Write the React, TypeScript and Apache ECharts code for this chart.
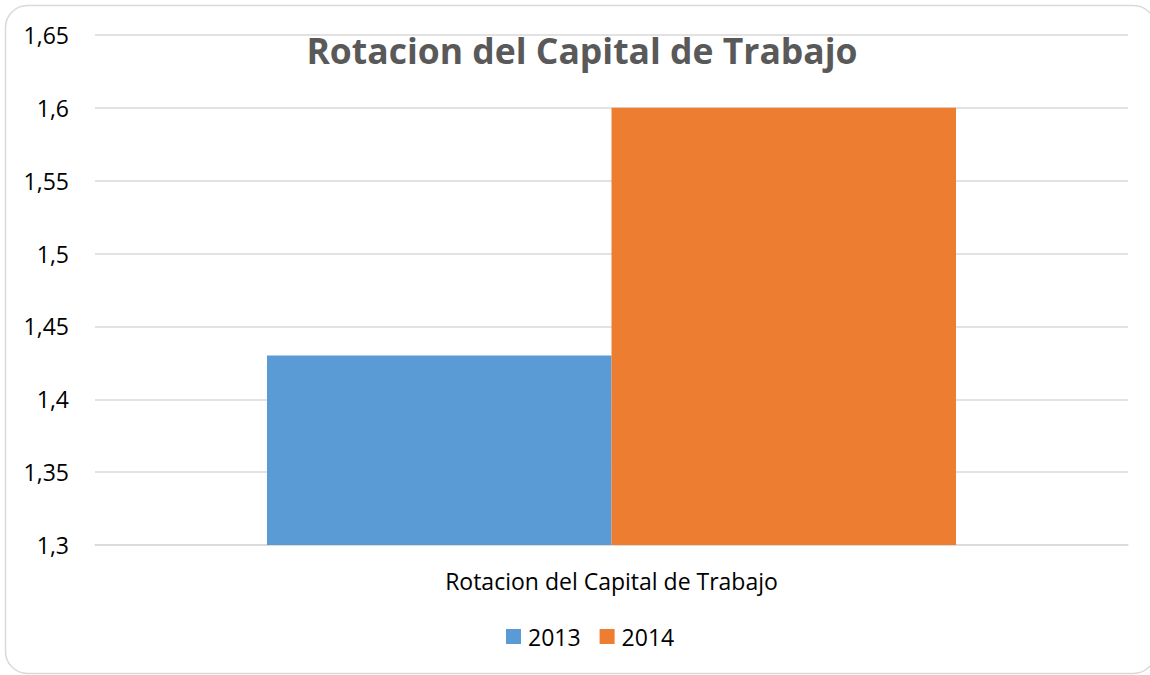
import React, { useEffect, useRef } from "react";
import * as echarts from "echarts";

const categories = ["Rotacion del Capital de Trabajo"];
const seriesNames = ["2013", "2014"];
const values2013 = [1.43];
const values2014 = [1.6];
const colors = ["#5b9bd5", "#ed7d31"];

export default function App() {
  const ref = useRef<HTMLDivElement>(null);
  useEffect(() => {
    const chart = echarts.init(ref.current!, null, { renderer: "svg" });
    const font = "Open Sans";
    chart.setOption({
      animation: false,
      backgroundColor: "#fff",
      title: {
        text: "Rotacion del Capital de Trabajo",
        left: 577,
        textAlign: "center",
        top: 27,
        textStyle: { fontFamily: font, fontSize: 35.5, fontWeight: "bold", color: "#595959" },
      },
      graphic: [
        {
          type: "rect",
          shape: { x: 5.5, y: 5.5, width: 1150, height: 668, r: 22 },
          style: { fill: "none", stroke: "#d9d9d9", lineWidth: 1.5 },
          z: -1,
        },
      ],
      legend: {
        bottom: 22,
        left: 501,
        itemWidth: 15,
        itemHeight: 15,
        itemGap: 19,
        icon: "rect",
        textStyle: { fontFamily: font, fontSize: 23, color: "#000", padding: [0, 0, 0, 2] },
        data: seriesNames,
      },
      grid: { left: 95, right: 22, top: 35, bottom: 130, containLabel: false },
      xAxis: {
        type: "category",
        data: categories,
        axisLine: { lineStyle: { color: "#d9d9d9", width: 1.5 } },
        axisTick: { show: false },
        axisLabel: { margin: 24, fontFamily: font, fontSize: 23, color: "#000" },
      },
      yAxis: {
        type: "value",
        min: 1.3,
        max: 1.65,
        interval: 0.05,
        axisLine: { show: false },
        axisTick: { show: false },
        splitLine: { lineStyle: { color: "#d9d9d9", width: 1.5 } },
        axisLabel: {
          margin: 26,
          fontFamily: font,
          fontSize: 23,
          color: "#000",
          formatter: (v: number) => String(Math.round(v * 100) / 100).replace(".", ","),
        },
      },
      series: [
        {
          name: seriesNames[0],
          type: "bar",
          data: values2013,
          itemStyle: { color: colors[0] },
          barGap: "0%",
          barCategoryGap: "33.3%",
        },
        {
          name: seriesNames[1],
          type: "bar",
          data: values2014,
          itemStyle: { color: colors[1] },
          barGap: "0%",
          barCategoryGap: "33.3%",
        },
      ],
    });
    return () => chart.dispose();
  }, []);
  return (
    <div
      ref={ref}
      style={{ position: "fixed", left: 0, top: 0, width: 1150, height: 675 }}
    />
  );
}
